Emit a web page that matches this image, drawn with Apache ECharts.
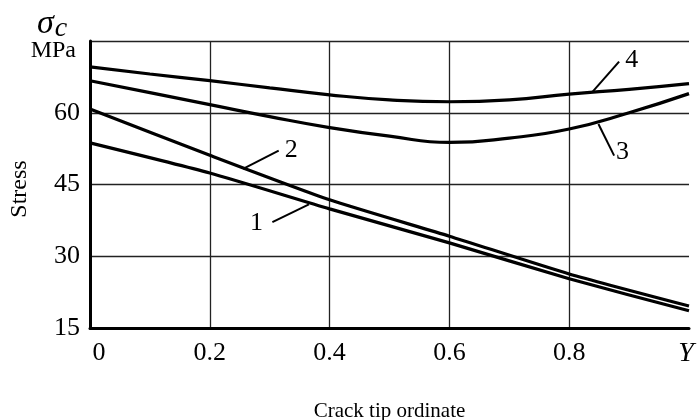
<!DOCTYPE html>
<html>
<head>
<meta charset="utf-8">
<script src="https://cdn.jsdelivr.net/npm/echarts@6/dist/echarts.min.js"></script>
<style>html,body{margin:0;padding:0;background:#fff;}#c{width:697px;height:420px;}</style>
</head>
<body>
<div id="c"></div>
<script>
// ---- data ----
const xTicks = [0, 0.2, 0.4, 0.6, 0.8, 1.0];
const xFine = [0, 0.1, 0.2, 0.3, 0.4, 0.5, 0.6, 0.7, 0.8, 0.9, 1.0];
const yTicks = [15, 30, 45, 60, 75];
const curve1 = [53.7, 47.4, 39.9, 32.8, 25.3, 18.6];          // on xTicks
const curve2 = [60.8, 51.1, 41.8, 34.2, 26.3, 19.6];          // on xTicks
const curve3 = [66.7, 64.2, 61.7, 59.2, 56.9, 55.1, 53.8, 54.7, 56.6, 60.0, 64.0]; // on xFine
const curve4 = [69.6, 68.1, 66.7, 65.2, 63.75, 62.7, 62.3, 62.7, 63.9, 64.9, 66.1]; // on xFine
// curve-number callouts: text, text anchor, leader start, leader end (data coords)
const callouts = [
  {t: '1', text: [0.278, 36.9], a: [0.3045, 37.15], b: [0.3655, 40.83]},
  {t: '2', text: [0.336, 52.1], a: [0.2555, 48.27], b: [0.315, 52.08]},
  {t: '3', text: [0.889, 51.7], a: [0.8488, 57.65], b: [0.875, 51.04]},
  {t: '4', text: [0.9045, 70.98], a: [0.8388, 64.375], b: [0.8833, 70.69]}
];

const FONT = 'Liberation Serif';
const chart = echarts.init(document.getElementById('c'), null, {renderer: 'canvas'});
const pair = (xs, ys) => xs.map((x, i) => [x, ys[i]]);
const lineStyle = {color: '#000', width: 3.2};

chart.setOption({
  animation: false,
  backgroundColor: '#fff',
  grid: {left: 90, right: 8, top: 41, bottom: 92, containLabel: false, outerBoundsMode: 'none'},
  xAxis: {
    type: 'value', min: 0, max: 1, interval: 0.2,
    axisLine: {show: true, onZero: false, lineStyle: {color: '#000', width: 3}},
    axisTick: {show: false},
    splitLine: {show: true, showMinLine: false, showMaxLine: false, lineStyle: {color: '#222', width: 1.3}},
    axisLabel: {
      margin: 12, color: '#000', fontFamily: FONT, fontSize: 26,
      formatter: v => v === 0 ? '{z|0}' : (Math.abs(v - 1) < 1e-9 ? '{y|Y}' : v.toFixed(1)),
      rich: {
        z: {fontFamily: FONT, fontSize: 26, color: '#000', padding: [0, 0, 0, 18]},
        y: {fontFamily: FONT, fontSize: 28, fontStyle: 'italic', color: '#000', padding: [0, 6, 0, 0]}
      }
    },
    name: 'Crack tip ordinate', nameLocation: 'middle', nameGap: 73,
    nameTextStyle: {color: '#000', fontFamily: FONT, fontSize: 21}
  },
  yAxis: {
    type: 'value', min: yTicks[0], max: yTicks[yTicks.length - 1], interval: 15,
    axisLine: {show: true, lineStyle: {color: '#000', width: 3}},
    axisTick: {show: false},
    splitLine: {show: true, lineStyle: {color: '#222', width: 1.3}},
    axisLabel: {
      margin: 10, color: '#000', fontFamily: FONT, fontSize: 26,
      formatter: v => v === 75 ? '' : String(v)
    },
    name: 'Stress', nameLocation: 'middle', nameGap: 58, nameRotate: 90,
    nameTextStyle: {color: '#000', fontFamily: FONT, fontSize: 24, padding: [0, 9, 0, 0]}
  },
  series: [
    {type: 'line', data: pair(xTicks, curve1), smooth: 0.2, symbol: 'none', lineStyle},
    {type: 'line', data: pair(xTicks, curve2), smooth: 0.2, symbol: 'none', lineStyle},
    {type: 'line', data: pair(xFine, curve3), smooth: 0.5, symbol: 'none', lineStyle},
    {type: 'line', data: pair(xFine, curve4), smooth: 0.5, symbol: 'none', lineStyle}
  ]
});

const px = p => chart.convertToPixel({gridIndex: 0}, p);
const graphics = [];
callouts.forEach(c => {
  const a = px(c.a), b = px(c.b), t = px(c.text);
  graphics.push({type: 'line', shape: {x1: a[0], y1: a[1], x2: b[0], y2: b[1]}, style: {stroke: '#000', lineWidth: 2}, z: 10});
  graphics.push({type: 'text', x: t[0], y: t[1], style: {text: c.t, fill: '#000', font: '26px "' + FONT + '"', align: 'center', verticalAlign: 'middle'}, z: 10});
});
graphics.push({
  type: 'text', x: 37, y: 24,
  style: {
    text: '{s|σ}{c|c}', verticalAlign: 'middle',
    rich: {
      s: {fontFamily: FONT, fontStyle: 'italic', fontSize: 34, fill: '#000'},
      c: {fontFamily: FONT, fontStyle: 'italic', fontSize: 28, fill: '#000', padding: [10, 0, 0, 1]}
    }
  }
});
graphics.push({type: 'text', x: 76, y: 51, style: {text: 'MPa', fill: '#000', font: '24px "' + FONT + '"', align: 'right', verticalAlign: 'middle'}});
chart.setOption({graphic: graphics});
</script>
</body>
</html>
